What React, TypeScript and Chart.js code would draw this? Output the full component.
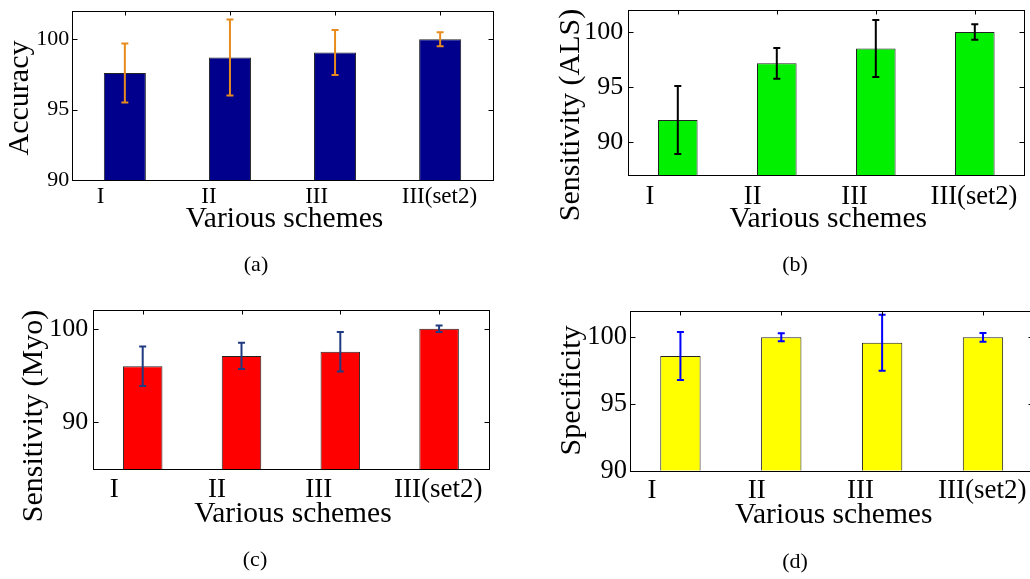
import React, { useEffect, useRef } from "react";
import { Chart, registerables } from "chart.js";

Chart.register(...registerables);

// ---------- data ----------
const categories = ["I", "II", "III", "III(set2)"];

const accuracyValues = [97.6, 98.7, 99.05, 100];
const accuracyErrors = [2.1, 2.7, 1.6, 0.5];

const alsValues = [92.0, 97.15, 98.5, 100];
const alsErrors = [3.1, 1.4, 2.6, 0.7];

const myoValues = [96.0, 97.1, 97.55, 100];
const myoErrors = [2.1, 1.4, 2.1, 0.35];

const specValues = [98.6, 100, 99.6, 100];
const specErrors = [1.8, 0.3, 2.1, 0.33];

const ticksA = [90, 95, 100];
const ticksB = [90, 95, 100];
const ticksC = [90, 100];
const ticksD = [90, 95, 100];

// ---------- styling ----------
const FONT = '"Liberation Serif", "Times New Roman", serif';
const labelShiftEm = [-1.05, -0.91, -0.8, -0.03];

type PanelCfg = {
  left: number; top: number; w: number; h: number;
  pad: { left: number; right: number; top: number; bottom: number };
  values: number[]; errors: number[]; yTicks: number[];
  yMin: number; yMax: number;
  barColor: string; errColor: string;
  yTickFont: number; yTickPad: number;
  xTickFont: number; xTickGap: number; xTitleGap: number;
  yTitle: string; yTitleX: number; yTitleY: number;
  caption: string; capX: number; capY: number;
};

const panels: PanelCfg[] = [
  {
    left: 0, top: 0, w: 515, h: 290,
    pad: { left: 72.3, right: 22.3, top: 11, bottom: 110 },
    values: accuracyValues, errors: accuracyErrors, yTicks: ticksA,
    yMin: 90, yMax: 102, barColor: "#00008c", errColor: "#e88b1e",
    yTickFont: 22, yTickPad: 3, xTickFont: 23, xTickGap: 23, xTitleGap: 47,
    yTitle: "Accuracy", yTitleX: 27.5, yTitleY: 98,
    caption: "(a)", capX: 256, capY: 265,
  },
  {
    left: 515, top: 0, w: 515, h: 290,
    pad: { left: 113.3, right: 5.7, top: 10, bottom: 115 },
    values: alsValues, errors: alsErrors, yTicks: ticksB,
    yMin: 87, yMax: 102, barColor: "#00f000", errColor: "#000000",
    yTickFont: 26, yTickPad: 5, xTickFont: 26.5, xTickGap: 29, xTitleGap: 51.7,
    yTitle: "Sensitivity (ALS)", yTitleX: 63.5, yTitleY: 115,
    caption: "(b)", capX: 280, capY: 265,
  },
  {
    left: 0, top: 290, w: 515, h: 289,
    pad: { left: 93.3, right: 26.5, top: 20, bottom: 109.7 },
    values: myoValues, errors: myoErrors, yTicks: ticksC,
    yMin: 85, yMax: 102, barColor: "#ff0000", errColor: "#1f3a80",
    yTickFont: 26, yTickPad: 5, xTickFont: 27, xTickGap: 28, xTitleGap: 52.4,
    yTitle: "Sensitivity (Myo)", yTitleX: 42, yTitleY: 126,
    caption: "(c)", capX: 255, capY: 270,
  },
  {
    left: 515, top: 290, w: 530, h: 289,
    pad: { left: 115, right: 11.6, top: 20.7, bottom: 108.3 },
    values: specValues, errors: specErrors, yTicks: ticksD,
    yMin: 90, yMax: 102, barColor: "#ffff00", errColor: "#0000ff",
    yTickFont: 26.5, yTickPad: 3, xTickFont: 27, xTickGap: 27.6, xTitleGap: 52.6,
    yTitle: "Specificity", yTitleX: 64.5, yTitleY: 100.5,
    caption: "(d)", capX: 280, capY: 272,
  },
];

function makeDeco(p: PanelCfg) {
  return {
    id: "deco",
    afterDatasetsDraw(chart: any) {
      const ctx = chart.ctx as CanvasRenderingContext2D;
      const ys = chart.scales.y;
      const meta = chart.getDatasetMeta(0);
      ctx.save();
      ctx.strokeStyle = p.errColor;
      ctx.lineWidth = 2;
      meta.data.forEach((bar: any, i: number) => {
        const x = bar.x;
        const t = ys.getPixelForValue(p.values[i] + p.errors[i]);
        const b = ys.getPixelForValue(p.values[i] - p.errors[i]);
        ctx.beginPath();
        ctx.moveTo(x, t); ctx.lineTo(x, b);
        ctx.moveTo(x - 3.5, t); ctx.lineTo(x + 3.5, t);
        ctx.moveTo(x - 3.5, b); ctx.lineTo(x + 3.5, b);
        ctx.stroke();
      });
      ctx.restore();
    },
    afterDraw(chart: any) {
      const ctx = chart.ctx as CanvasRenderingContext2D;
      const { left, right, top, bottom } = chart.chartArea;
      const xs = chart.scales.x;
      const ys = chart.scales.y;
      const L = Math.round(left) + 0.5, R = Math.round(right) + 0.5;
      const T = Math.round(top) + 0.5, B = Math.round(bottom) + 0.5;
      ctx.save();
      ctx.strokeStyle = "#000";
      ctx.lineWidth = 1;
      ctx.strokeRect(L, T, R - L, B - T);
      ctx.beginPath();
      p.yTicks.forEach((v) => {
        const py = Math.round(ys.getPixelForValue(v)) + 0.5;
        ctx.moveTo(L, py); ctx.lineTo(L + 5, py);
        ctx.moveTo(R, py); ctx.lineTo(R - 5, py);
      });
      categories.forEach((_, i) => {
        const px = Math.round(xs.getPixelForValue(i)) + 0.5;
        ctx.moveTo(px, T); ctx.lineTo(px, T + 4);
      });
      ctx.stroke();

      ctx.fillStyle = "#000";
      ctx.textBaseline = "alphabetic";
      ctx.textAlign = "center";
      ctx.font = `${p.xTickFont}px ${FONT}`;
      categories.forEach((c, i) => {
        const px = xs.getPixelForValue(i) + labelShiftEm[i] * p.xTickFont;
        ctx.fillText(c, px, bottom + p.xTickGap);
      });
      ctx.font = `29.5px ${FONT}`;
      ctx.fillText("Various schemes", (left + right) / 2 + 2, bottom + p.xTitleGap);

      ctx.save();
      ctx.font = `30px ${FONT}`;
      ctx.translate(p.yTitleX, p.yTitleY);
      ctx.rotate(-Math.PI / 2);
      ctx.fillText(p.yTitle, 0, 0);
      ctx.restore();

      ctx.font = `22px ${FONT}`;
      ctx.textBaseline = "middle";
      ctx.fillText(p.caption, p.capX, p.capY);
      ctx.restore();
    },
  };
}

function Panel({ p }: { p: PanelCfg }) {
  const ref = useRef<HTMLCanvasElement>(null);
  useEffect(() => {
    const chart = new Chart(ref.current as HTMLCanvasElement, {
      type: "bar",
      data: {
        labels: categories,
        datasets: [
          {
            data: p.values,
            backgroundColor: p.barColor,
            borderColor: "#222",
            borderWidth: 1,
            borderSkipped: "start",
            barPercentage: 0.4,
            categoryPercentage: 1,
            base: p.yMin,
          } as any,
        ],
      },
      options: {
        responsive: false,
        animation: false,
        devicePixelRatio: 1,
        layout: { padding: { left: 0, right: p.pad.right, top: p.pad.top, bottom: p.pad.bottom } },
        plugins: { legend: { display: false }, tooltip: { enabled: false } },
        scales: {
          x: {
            offset: true,
            ticks: { display: false },
            grid: { display: false, drawTicks: false },
            border: { display: false },
          },
          y: {
            min: p.yMin,
            max: p.yMax,
            afterBuildTicks: (s: any) => {
              s.ticks = p.yTicks.map((v) => ({ value: v }));
            },
            afterFit: (s: any) => {
              s.width = p.pad.left;
              s.paddingTop = 0;
              s.paddingBottom = 0;
            },
            ticks: {
              color: "#000",
              padding: p.yTickPad,
              font: { family: FONT, size: p.yTickFont },
            },
            grid: { display: false, drawTicks: false },
            border: { display: false },
          },
        },
      } as any,
      plugins: [makeDeco(p)],
    });
    return () => chart.destroy();
  }, []);
  return (
    <canvas
      ref={ref}
      width={p.w}
      height={p.h}
      style={{ position: "absolute", left: p.left, top: p.top, width: p.w, height: p.h }}
    />
  );
}

export default function App() {
  return (
    <div
      style={{
        position: "absolute",
        left: 0,
        top: 0,
        width: 1030,
        height: 579,
        overflow: "hidden",
        background: "#fff",
      }}
    >
      {panels.map((p, i) => (
        <Panel key={i} p={p} />
      ))}
    </div>
  );
}
